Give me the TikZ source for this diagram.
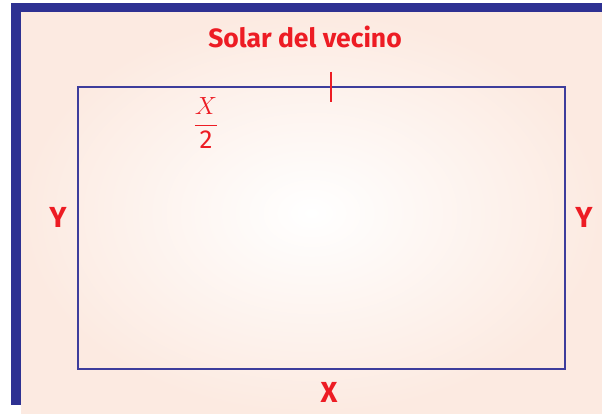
\documentclass[tikz,border=0pt]{standalone}
\usepackage{amsmath}
\usepackage{fontspec}
\setsansfont{Fira Sans}
\definecolor{bandblue}{HTML}{2E3192}
\definecolor{lineblue}{HTML}{3D3D9C}
\definecolor{labelred}{HTML}{ED1C24}
\definecolor{peach}{HTML}{FCEAE1}
\tikzset{
  lbl/.style={text=labelred, font=\sffamily\bfseries\fontsize{29}{32}\selectfont, inner sep=0pt, anchor=base},
  ttl/.style={lbl, font=\sffamily\bfseries\fontsize{26.5}{30}\selectfont},
}
\begin{document}
\begin{tikzpicture}[x=1pt,y=-1pt]
  \useasboundingbox (0,0) rectangle (602,414);
  % background and border bands
  \shade[inner color=white, outer color=peach] (21,12) rectangle (602,414);
  \fill[bandblue] (11,3) rectangle (602,12);
  \fill[bandblue] (11,3) rectangle (21,405);
  % the plot
  \coordinate (nw) at (78,87);
  \coordinate (se) at (565,369);
  \draw[lineblue, line width=2] (nw) rectangle (se);
  \coordinate (ticktop) at (331,72);
  \coordinate (tickbot) at (331,102);
  \draw[labelred, line width=1.5] (ticktop) -- (tickbot);
  % labels
  \node[ttl] (vecino) at (305,48) {Solar del vecino};
  \node[lbl] (yleft) at (58,227) {Y};
  \node[lbl] (yright) at (584,227) {Y};
  \node[lbl] (xbottom) at (329,402) {X};
  \node[text=labelred, inner sep=0pt, font=\fontsize{26}{30}\selectfont] (half) at (206,123) {$\dfrac{X}{\textsf{2}}$};
\end{tikzpicture}
\end{document}
